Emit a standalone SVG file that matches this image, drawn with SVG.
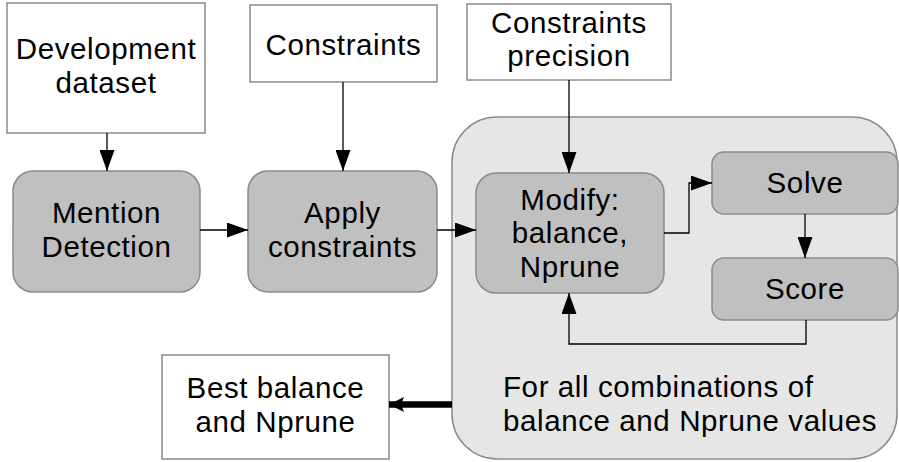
<svg xmlns="http://www.w3.org/2000/svg" width="899" height="462" viewBox="0 0 899 462">
<style>
  .box { fill: #ffffff; stroke: #8a8a8a; stroke-width: 1.5; }
  .proc { fill: #c0c0c0; stroke: #8a8a8a; stroke-width: 1.5; }
  .cont { fill: #e6e6e6; stroke: #8a8a8a; stroke-width: 1.5; }
  .lbl { font-family: "Liberation Sans", Arial, sans-serif; font-size: 29.5px; letter-spacing: 0.6px; fill: #000; text-anchor: middle; }
  .lbl-l { font-family: "Liberation Sans", Arial, sans-serif; font-size: 29.5px; letter-spacing: 0.6px; fill: #000; }
  .conn { fill: none; stroke: #000; stroke-width: 1.3; }
  .thick { fill: none; stroke: #000; stroke-width: 6.5; }
</style>
<defs>
  <marker id="arr" markerUnits="userSpaceOnUse" markerWidth="21" markerHeight="15" refX="21" refY="7.5" orient="auto">
    <path d="M0,0 L21,7.5 L0,15 Z" fill="#000"/>
  </marker>
  <marker id="arrT" markerUnits="userSpaceOnUse" markerWidth="15" markerHeight="15" refX="15" refY="7.5" orient="auto">
    <path d="M0,0 L15,7.5 L0,15 L3,7.5 Z" fill="#000"/>
  </marker>
</defs>
<rect width="899" height="462" fill="#ffffff"/>

<g id="loop">
  <rect class="cont" x="452" y="117" width="445" height="342" rx="45" ry="45"/>
  <text class="lbl-l" x="503" y="397">For all combinations of</text>
  <text class="lbl-l" x="503" y="431">balance and Nprune values</text>
</g>

<g id="dev-dataset">
  <rect class="box" x="7" y="3" width="198" height="130"/>
  <text class="lbl" x="106" y="59">Development</text>
  <text class="lbl" x="106" y="93">dataset</text>
</g>

<g id="constraints">
  <rect class="box" x="250" y="5" width="187" height="77"/>
  <text class="lbl" x="343.5" y="55">Constraints</text>
</g>

<g id="constraints-precision">
  <rect class="box" x="467" y="4" width="204" height="76"/>
  <text class="lbl" x="569" y="33">Constraints</text>
  <text class="lbl" x="569" y="66">precision</text>
</g>

<g id="mention-detection">
  <rect class="proc" x="13" y="171" width="187" height="121" rx="20" ry="20"/>
  <text class="lbl" x="106.5" y="223">Mention</text>
  <text class="lbl" x="106.5" y="257">Detection</text>
</g>

<g id="apply-constraints">
  <rect class="proc" x="248" y="171" width="189" height="121" rx="20" ry="20"/>
  <text class="lbl" x="342.5" y="223">Apply</text>
  <text class="lbl" x="342.5" y="257">constraints</text>
</g>

<g id="modify">
  <rect class="proc" x="476" y="173" width="188" height="120" rx="20" ry="20"/>
  <text class="lbl" x="570" y="210">Modify:</text>
  <text class="lbl" x="570" y="243">balance,</text>
  <text class="lbl" x="570" y="277">Nprune</text>
</g>

<g id="solve">
  <rect class="proc" x="712" y="152" width="186" height="62" rx="12" ry="12"/>
  <text class="lbl" x="805" y="193">Solve</text>
</g>

<g id="score">
  <rect class="proc" x="712" y="258" width="186" height="62" rx="12" ry="12"/>
  <text class="lbl" x="805" y="299">Score</text>
</g>

<g id="best">
  <rect class="box" x="162" y="355" width="227" height="104"/>
  <text class="lbl" x="275.5" y="398">Best balance</text>
  <text class="lbl" x="275.5" y="432">and Nprune</text>
</g>

<g id="connectors">
  <line class="conn" x1="107" y1="133" x2="107" y2="171" marker-end="url(#arr)"/>
  <line class="conn" x1="343" y1="82" x2="343" y2="171" marker-end="url(#arr)"/>
  <line class="conn" x1="569" y1="80" x2="569" y2="173" marker-end="url(#arr)"/>
  <line class="conn" x1="200" y1="230" x2="248" y2="230" marker-end="url(#arr)"/>
  <line class="conn" x1="437" y1="230" x2="476" y2="230" marker-end="url(#arr)"/>
  <polyline class="conn" points="664,233 689,233 689,183 712,183" marker-end="url(#arr)"/>
  <line class="conn" x1="805" y1="214" x2="805" y2="258" marker-end="url(#arr)"/>
  <polyline class="conn" points="806,320 806,344 569,344 569,293" marker-end="url(#arr)"/>
  <line class="thick" x1="452" y1="404.5" x2="389" y2="404.5" marker-end="url(#arrT)"/>
</g>
</svg>
